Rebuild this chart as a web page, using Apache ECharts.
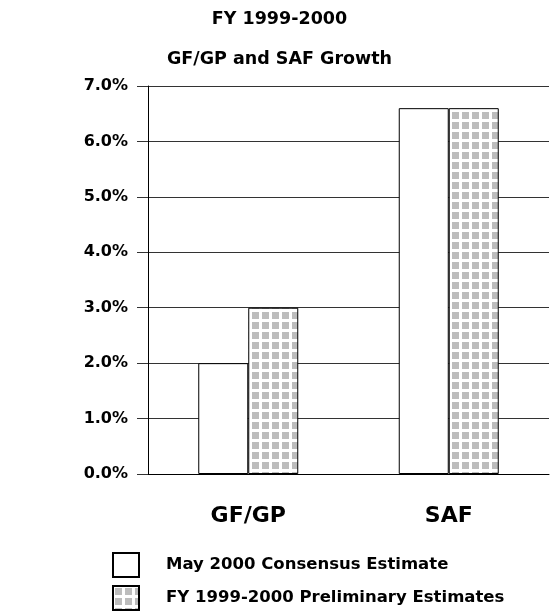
<!DOCTYPE html>
<html>
<head>
<meta charset="utf-8">
<script src="https://cdn.jsdelivr.net/npm/echarts@6/dist/echarts.min.js"></script>
<style>
    html, body { margin: 0; padding: 0; background: #fff; }
    #chart { width: 559px; height: 614px; }
</style>
</head>
<body>
<div id="chart"></div>
<script>
    // data
    const categories = ['GF/GP', 'SAF'];
    const consensus = [2.0, 6.6];
    const preliminary = [3.0, 6.6];
    const seriesNames = ['May 2000 Consensus Estimate', 'FY 1999-2000 Preliminary Estimates'];

    // gray square-grid fill for the second series
    function makePattern(){
        let c = document.createElement('canvas');
        c.width = 10;
        c.height = 10;
        let ctx = c.getContext('2d');
        ctx.fillStyle = '#ffffff';
        ctx.fillRect(0, 0, 10, 10);
        ctx.fillStyle = '#bdbdbd';
        ctx.fillRect(2, 2, 7, 7);
        return c;
    }

    const font = '"DejaVu Sans", sans-serif';
    const titleStyle = {
        fontFamily: font,
        fontWeight: 'bold',
        fontSize: 17.5,
        color: '#000'
    };
    let chart = echarts.init(document.getElementById('chart'));
    let option = {
        animation: false,
        title: [
            { text: 'FY 1999-2000', left: 'center', top: 5, textStyle: titleStyle },
            { text: 'GF/GP and SAF Growth', left: 'center', top: 45, textStyle: titleStyle }
        ],
        grid: {
            left: 148,
            right: 10,
            top: 86,
            bottom: 140
        },
        legend: {
            orient: 'vertical',
            left: 112,
            top: 552,
            height: 60,
            padding: 0,
            itemWidth: 26,
            itemHeight: 24,
            itemGap: 7,
            icon: 'rect',
            data: seriesNames,
            textStyle: {
                fontFamily: font,
                fontWeight: 'bold',
                fontSize: 16.5,
                color: '#000',
                padding: [0, 0, 0, 22]
            }
        },
        xAxis: {
            type: 'category',
            data: categories,
            axisTick: { show: false },
            axisLine: { lineStyle: { color: '#000', width: 1 } },
            axisLabel: {
                margin: 31,
                fontFamily: font,
                fontWeight: 'bold',
                fontSize: 22,
                color: '#000'
            }
        },
        yAxis: {
            type: 'value',
            min: 0,
            max: 7,
            interval: 1,
            axisLine: { show: true, lineStyle: { color: '#000' } },
            axisTick: { show: true, length: 11, lineStyle: { color: '#333' } },
            splitLine: { lineStyle: { color: '#333', width: 1 } },
            axisLabel: {
                margin: 20,
                fontFamily: font,
                fontWeight: 'bold',
                fontSize: 16,
                color: '#000',
                formatter: (v) => v.toFixed(1) + '%'
            }
        },
        series: [
            {
                name: seriesNames[0],
                type: 'bar',
                data: consensus,
                barWidth: 50,
                barGap: 0,
                itemStyle: {
                    color: '#fff',
                    borderColor: '#000',
                    borderWidth: 1
                }
            },
            {
                name: seriesNames[1],
                type: 'bar',
                data: preliminary,
                barWidth: 50,
                itemStyle: {
                    color: { image: makePattern(), repeat: 'repeat' },
                    borderColor: '#000',
                    borderWidth: 1
                }
            }
        ]
    };
    chart.setOption(option);
</script>
</body>
</html>
